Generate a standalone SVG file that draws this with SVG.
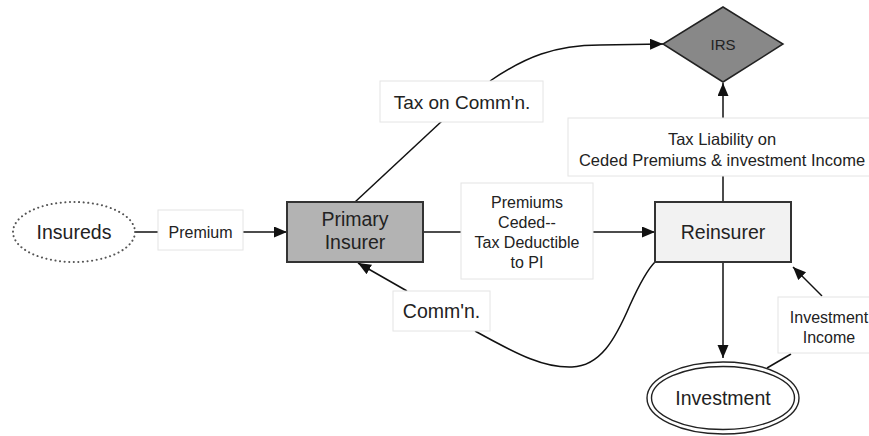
<svg xmlns="http://www.w3.org/2000/svg" width="869" height="436" viewBox="0 0 869 436">
<defs>
<marker id="arr" markerUnits="userSpaceOnUse" markerWidth="14" markerHeight="12" refX="13" refY="5.5" orient="auto">
<path d="M0,0 L13,5.5 L0,11 z" fill="#111"/>
</marker>
<style>
text{font-family:"Liberation Sans",Arial,sans-serif;fill:#222;text-anchor:middle}
.big{font-size:19.5px}
.mid{font-size:16px}
.lbl{fill:#fff;stroke:#e4e4e4;stroke-width:1}
.node{stroke:#333;stroke-width:2}
.conn{fill:none;stroke:#111;stroke-width:1.5}
</style>
</defs>
<rect width="869" height="436" fill="#fff"/>
<g id="connectors">
<line class="conn" x1="135" y1="232" x2="158" y2="232"/>
<line class="conn" x1="243" y1="232" x2="287" y2="232" marker-end="url(#arr)"/>
<line class="conn" x1="423" y1="232" x2="461" y2="232"/>
<line class="conn" x1="593" y1="232" x2="655" y2="232" marker-end="url(#arr)"/>
<line class="conn" x1="355" y1="202" x2="442" y2="121"/>
<path class="conn" d="M490,81 C525,57 555,45 600,45 L663,44" marker-end="url(#arr)"/>
<line class="conn" x1="723" y1="202" x2="723" y2="176"/>
<line class="conn" x1="723" y1="118" x2="723" y2="83" marker-end="url(#arr)"/>
<line class="conn" x1="407" y1="291" x2="358" y2="263" marker-end="url(#arr)"/>
<path class="conn" d="M475,331 C520,356 545,368 572,367 C600,366 615,340 630,305 C640,283 647,270 655,262"/>
<line class="conn" x1="723" y1="262" x2="723" y2="358" marker-end="url(#arr)"/>
<line class="conn" x1="822" y1="296" x2="793" y2="267" marker-end="url(#arr)"/>
<line class="conn" x1="767" y1="368" x2="791" y2="354"/>
</g>
<g id="lbl-premium">
<rect class="lbl" x="158" y="210" width="85" height="40"/>
<text class="mid" x="200.5" y="238">Premium</text>
</g>
<g id="lbl-taxcomm">
<rect class="lbl" x="380" y="81" width="163" height="41"/>
<text style="font-size:19px" x="462" y="108.5">Tax on Comm'n.</text>
</g>
<g id="lbl-ceded">
<rect class="lbl" x="461" y="183" width="132" height="96"/>
<text class="mid" x="527" y="208">Premiums</text>
<text class="mid" x="527" y="228">Ceded--</text>
<text class="mid" x="527" y="248">Tax Deductible</text>
<text class="mid" x="527" y="268">to PI</text>
</g>
<g id="lbl-taxliab">
<rect class="lbl" x="568" y="118" width="310" height="58"/>
<text style="font-size:16.5px" x="722" y="145">Tax Liability on</text>
<text style="font-size:16.5px" x="722" y="166">Ceded Premiums &amp; investment Income</text>
</g>
<g id="lbl-comm">
<rect class="lbl" x="393" y="291" width="97" height="40"/>
<text class="big" x="441.5" y="318">Comm'n.</text>
</g>
<g id="lbl-invinc">
<rect class="lbl" x="778" y="297" width="100" height="56"/>
<text class="mid" x="829" y="323">Investment</text>
<text class="mid" x="829" y="343">Income</text>
</g>
<g id="insureds">
<ellipse cx="74" cy="232" rx="61" ry="30" fill="#fff" stroke="#555" stroke-width="2" stroke-dasharray="0.1 4.5" stroke-linecap="round"/>
<text class="big" x="74" y="239">Insureds</text>
</g>
<g id="primary">
<rect class="node" x="287" y="202" width="136" height="60" fill="#b3b3b3"/>
<text class="big" x="355" y="226">Primary</text>
<text class="big" x="355" y="249">Insurer</text>
</g>
<g id="reinsurer">
<rect class="node" x="655" y="202" width="136" height="60" fill="#f2f2f2"/>
<text class="big" x="723" y="239">Reinsurer</text>
</g>
<g id="irs">
<polygon points="723,7 783,44 723,82 663,44" fill="#888" stroke="#222" stroke-width="1.5"/>
<text style="font-size:15px" x="723" y="50">IRS</text>
</g>
<g id="investment">
<ellipse cx="723" cy="398" rx="76" ry="36" fill="#fff" stroke="#222" stroke-width="1.4"/>
<ellipse cx="723" cy="398" rx="71.5" ry="31.5" fill="none" stroke="#222" stroke-width="1.4"/>
<text class="big" x="723" y="405">Investment</text>
</g>
</svg>
